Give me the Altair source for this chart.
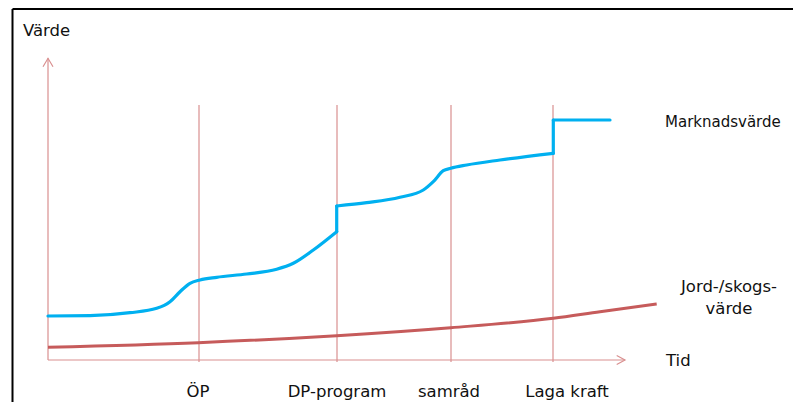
import altair as alt
import pandas as pd

# ---- data (time units t, value units v; axes cross at t=0, v=0) ----
# market value curve, split into smooth pieces (seg) joined by vertical jumps
market_t = [0, 42, 82, 108.7, 122, 132, 142, 152, 168.7, 198.7, 228.7, 245.3, 265.3, 288.7,
            288.7, 288.7,
            288.7, 318.7, 352, 375.3, 385.3, 395.3, 402.7, 418.7, 452, 505.3,
            505.3, 505.3,
            505.3, 562]
market_v = [44, 44.3, 47.3, 51.7, 58.3, 68.3, 76.7, 80, 82.7, 86, 90.7, 96.7, 110, 128.3,
            128.3, 154,
            154, 157.3, 162.7, 170, 178.3, 189.3, 191.7, 195, 200, 206.7,
            206.7, 240,
            240, 240]
market_seg = ["a"] * 14 + ["j1"] * 2 + ["b"] * 10 + ["j2"] * 2 + ["c"] * 2

land_t = [0, 150.3, 288.7, 402.7, 505.3, 552, 608.7]
land_v = [12.7, 17.3, 24.3, 32.3, 41.7, 48.3, 56]

milestones = ["ÖP", "DP-program", "samråd", "Laga kraft"]
milestone_t = [151, 289, 403, 505]
milestone_label_t = [150, 289, 401, 519]

font = "DejaVu Sans"
fs = 16.5
txt_color = "#111111"
axis_color = "#d98f8f"

xs = alt.Scale(domain=[-40, 745], nice=False, zero=False)
ys = alt.Scale(domain=[-42, 352], nice=False, zero=False)


def X(f="t"):
    return alt.X(f"{f}:Q", scale=xs, axis=None)


def Y(f="v"):
    return alt.Y(f"{f}:Q", scale=ys, axis=None)


# milestone vertical lines
ms_df = pd.DataFrame({"t": milestone_t, "v": [-2] * 4, "v2": [255] * 4})
ms_lines = alt.Chart(ms_df).mark_rule(color=axis_color, strokeWidth=1.2).encode(
    x=X(), y=Y(), y2="v2:Q")

# axes (with arrow heads)
axes_df = pd.DataFrame({"t": [0, 0], "t2": [0, 577], "v": [0, 0], "v2": [301.7, 0]})
axes = alt.Chart(axes_df).mark_rule(color=axis_color, strokeWidth=1.2).encode(
    x=X(), x2="t2:Q", y=Y(), y2="v2:Q")

arrow_df = pd.DataFrame({
    "t": [-5, 0, 5, 568.7, 577, 568.7],
    "v": [293.3, 301.7, 293.3, 4.5, 0, -4.5],
    "grp": ["y", "y", "y", "x", "x", "x"],
    "o": [0, 1, 2, 0, 1, 2],
})
arrows = alt.Chart(arrow_df).mark_line(color=axis_color, strokeWidth=1.2).encode(
    x=X(), y=Y(), detail="grp:N", order="o:Q")

# series
market_df = pd.DataFrame({"t": market_t, "v": market_v, "seg": market_seg,
                          "o": list(range(len(market_t)))})
market = alt.Chart(market_df).mark_line(color="#00b0f0", strokeWidth=3.2,
                                        interpolate="monotone", strokeCap="round").encode(
    x=X(), y=Y(), detail="seg:N", order="o:Q")

land_df = pd.DataFrame({"t": land_t, "v": land_v})
land = alt.Chart(land_df).mark_line(color="#c65b5b", strokeWidth=3,
                                    interpolate="monotone").encode(x=X(), y=Y())

# milestone labels
lab_df = pd.DataFrame({"t": milestone_label_t, "v": [-36.5] * 4, "label": milestones})
labels = alt.Chart(lab_df).mark_text(font=font, fontSize=fs, color=txt_color,
                                     align="center", baseline="alphabetic").encode(
    x=X(), y=Y(), text="label:N")

# other annotations
ann_left = pd.DataFrame({
    "t": [-25, 618],
    "v": [324, -6],
    "label": ["Värde", "Tid"],
})
ann_l = alt.Chart(ann_left).mark_text(font=font, fontSize=fs, color=txt_color,
                                      align="left", baseline="alphabetic").encode(
    x=X(), y=Y(), text="label:N")

ann_market = pd.DataFrame({"t": [617], "v": [233.5], "label": ["Marknadsvärde"]})
ann_m = alt.Chart(ann_market).mark_text(font=font, fontSize=15, color=txt_color,
                                        align="left", baseline="alphabetic").encode(
    x=X(), y=Y(), text="label:N")

ann_center = pd.DataFrame({"t": [681, 681], "v": [67.7, 46], "label": ["Jord-/skogs-", "värde"]})
ann_c = alt.Chart(ann_center).mark_text(font=font, fontSize=fs, color=txt_color,
                                        align="center", baseline="alphabetic").encode(
    x=X(), y=Y(), text="label:N")

# frame (top and left edges)
frame_df = pd.DataFrame({"t": [-35.5, -35.5], "t2": [-35.5, 745], "v": [351, 351], "v2": [-42, 351]})
frame = alt.Chart(frame_df).mark_rule(color="#000000", strokeWidth=2).encode(
    x=X(), x2="t2:Q", y=Y(), y2="v2:Q")

chart = alt.layer(ms_lines, axes, arrows, land, market, labels, ann_l, ann_m, ann_c, frame).properties(
    width=785, height=394, padding=0, autosize=alt.AutoSizeParams(type="none"),
    background="white",
).configure_view(stroke=None)

chart.save("out.html", embed_options={"renderer": "svg", "actions": False})
